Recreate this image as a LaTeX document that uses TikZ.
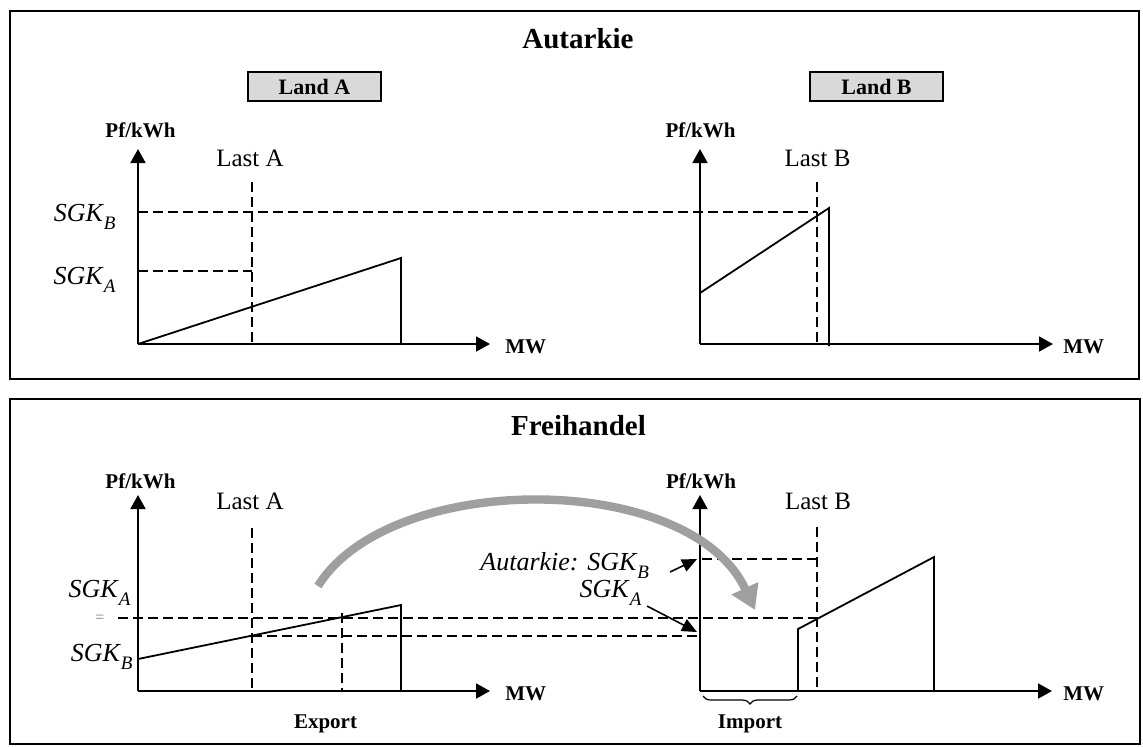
\documentclass[tikz,border=0pt]{standalone}
\usepackage{fontspec}
\setmainfont{Liberation Serif}
\usetikzlibrary{arrows.meta,decorations.pathreplacing}
\newcommand{\sgk}[1]{\textit{SGK}\raisebox{-4pt}{\fontsize{9.5}{9.5}\selectfont\textit{#1}}}

\begin{document}
\begin{tikzpicture}[x=0.5pt,y=-0.5pt]
	\tikzset{frame/.style = {draw, line width=1pt}}
	\tikzset{axis/.style = {-{Triangle[length=7pt,width=7.5pt]}, line width=0.9pt}}
	\tikzset{guide/.style = {line width=0.9pt, dash pattern=on 5pt off 2.5pt}}
	\tikzset{supply/.style = {line width=0.9pt}}
	\tikzset{pointer/.style = {-{Triangle[length=7.5pt,width=6.5pt]}, line width=0.8pt}}
	\tikzset{trade/.style = {line width=4.2pt, gray!75, -{Triangle[length=12pt,width=14pt]}}}
	\tikzset{land/.style = {draw, line width=0.8pt, fill=gray!30, minimum width=66.5pt, minimum height=14.5pt, inner sep=0pt, font=\fontsize{11}{11}\selectfont\bfseries}}
	\tikzset{unit/.style = {inner sep=0pt, font=\fontsize{10.5}{10.5}\selectfont\bfseries}}
	\tikzset{title/.style = {inner sep=0pt, font=\fontsize{14.5}{14.5}\selectfont\bfseries}}
	\tikzset{load/.style = {inner sep=0pt, font=\fontsize{12.5}{12.5}\selectfont}}
	\tikzset{cost/.style = {inner sep=0pt, font=\fontsize{13}{13}\selectfont}}
	\useasboundingbox (0,0) rectangle (1143,746);

	% Draw the two panels
	\draw[frame] (10,11) rectangle (1139,379);
	\draw[frame] (10,399) rectangle (1140,744);

	% Autarkie
	\node[title, anchor=base] (autTitle) at (578,48) {Autarkie};
	\node[land] (landA) at (314.5,86.5) {Land A};
	\node[land] (landB) at (876.5,86.5) {Land B};

	% Land A alone
	\coordinate (oA) at (138,344);
	\coordinate (yA) at (138,149);
	\coordinate (xA) at (490,344);
	\draw[axis] (oA) -- (yA);
	\draw[axis] (oA) -- (xA);
	\node[unit, anchor=base] (priceA) at (140.5,137) {Pf/kWh};
	\node[unit, anchor=base west] (mwA) at (505,353) {MW};
	\node[load, anchor=base] (lastA) at (250,166) {Last A};
	\draw[guide] (252,182) -- (252,344);
	\draw[guide] (138,271) -- (252,271);
	\draw[supply] (oA) -- (401,258) -- (401,344);
	\node[cost, anchor=base east] (sgkA) at (116,284) {\sgk{A}};
	\node[cost, anchor=base east] (sgkB) at (116,221) {\sgk{B}};

	% Land B alone
	\coordinate (oB) at (700,344);
	\coordinate (yB) at (700,149);
	\coordinate (xB) at (1053,344);
	\draw[axis] (oB) -- (yB);
	\draw[axis] (oB) -- (xB);
	\node[unit, anchor=base] (priceB) at (700.5,137) {Pf/kWh};
	\node[unit, anchor=base west] (mwB) at (1063,353) {MW};
	\node[load, anchor=base] (lastB) at (817.5,166) {Last B};
	\draw[guide] (817,182) -- (817,344);
	\draw[guide] (138,212) -- (817,212);
	\draw[supply] (700,293) -- (829,208) -- (829,346);

	% Freihandel
	\node[title, anchor=base] (tradeTitle) at (578.5,435) {Freihandel};

	% Land A exports
	\coordinate (oC) at (138,691);
	\coordinate (yC) at (138,495);
	\coordinate (xC) at (490,691);
	\draw[axis] (oC) -- (yC);
	\draw[axis] (oC) -- (xC);
	\node[unit, anchor=base] (priceC) at (140.5,488) {Pf/kWh};
	\node[unit, anchor=base west] (mwC) at (505,700) {MW};
	\node[load, anchor=base] (lastC) at (250,509) {Last A};
	\draw[guide] (252,528) -- (252,691);
	\draw[guide] (342,613) -- (342,691);
	\draw[guide] (118,618) -- (817,618);
	\draw[guide] (252,636) -- (697,636);
	\draw[supply] (138,659) -- (401,605) -- (401,691);
	\node[cost, anchor=base east] (sgkAC) at (131,597) {\sgk{A}};
	\node[inner sep=0pt, gray, font=\fontsize{8}{8}\selectfont] (equal) at (100,619) {=};
	\node[cost, anchor=base east] (sgkBC) at (133,661) {\sgk{B}};
	\node[unit, anchor=base] (export) at (325.5,728) {Export};

	% Land B imports
	\coordinate (oD) at (700,691);
	\coordinate (yD) at (700,495);
	\coordinate (xD) at (1052,691);
	\draw[axis] (oD) -- (yD);
	\draw[axis] (oD) -- (xD);
	\node[unit, anchor=base] (priceD) at (701,488) {Pf/kWh};
	\node[unit, anchor=base west] (mwD) at (1063,700) {MW};
	\node[load, anchor=base] (lastD) at (818,509) {Last B};
	\draw[guide] (817,527) -- (817,691);
	\draw[guide] (702,559) -- (817,559);
	\draw[supply] (798,691) -- (798,629) -- (934,557) -- (934,691);
	\draw[decorate, decoration={brace, mirror, amplitude=4pt}, line width=0.6pt] (703,696) -- (797,696);
	\node[unit, anchor=base] (import) at (750,728) {Import};

	% Labels pointing at the price axis
	\coordinate (autTip) at (697,559);
	\coordinate (sgkTip) at (697,632);
	\node[cost, anchor=base west] (autLabel) at (480,570) {\textit{Autarkie:} \sgk{B}};
	\node[cost, anchor=base east] (sgkLabel) at (642,597) {\sgk{A}};
	\draw[pointer] (670,572) -- (autTip);
	\draw[pointer] (647,606) -- (sgkTip);

	% Trade flow from A to B
	\draw[trade] (318,586) .. controls (390,470) and (690,470) .. (755,610);
\end{tikzpicture}
\end{document}
